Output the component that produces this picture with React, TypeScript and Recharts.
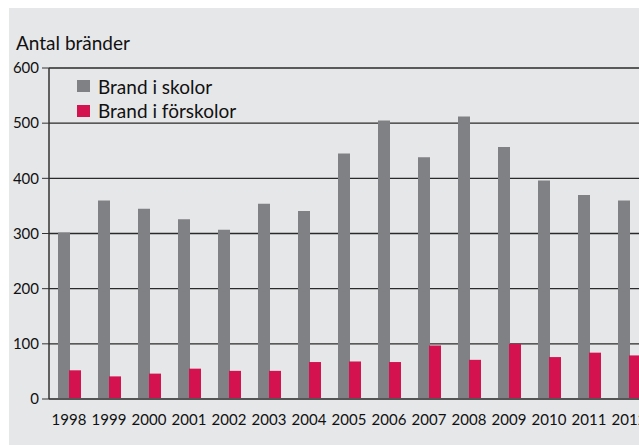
import React from "react";
import {
  BarChart,
  Bar,
  XAxis,
  YAxis,
  CartesianGrid,
} from "recharts";

// Antal bränder i skolor och förskolor, 1998–2012
const years: string[] = [
  "1998", "1999", "2000", "2001", "2002", "2003", "2004", "2005",
  "2006", "2007", "2008", "2009", "2010", "2011", "2012",
];
const skolor: number[] = [
  302, 360, 345, 326, 307, 354, 341, 445, 505, 438, 512, 457, 396, 370, 360,
];
const forskolor: number[] = [
  52, 41, 46, 55, 51, 51, 67, 68, 67, 97, 71, 100, 76, 84, 79,
];
const yTicks: number[] = [0, 100, 200, 300, 400, 500, 600];

const SERIES = [
  { key: "skolor", name: "Brand i skolor", color: "#808184" },
  { key: "forskolor", name: "Brand i förskolor", color: "#d4124f" },
];

const data = years.map((year, i) => ({
  year,
  skolor: skolor[i],
  forskolor: forskolor[i],
}));

const FONT = "Lato, 'Noto Sans', sans-serif";

// legenden ritas som en enkel lista med fyrkanter
function LegendBox() {
  return (
    <div
      style={{
        position: "absolute",
        left: 68,
        top: 66,
        fontFamily: FONT,
        fontSize: 19,
        color: "#111",
        zIndex: 2,
      }}
    >
      {SERIES.map((s) => (
        <div
          key={s.key}
          style={{ display: "flex", alignItems: "center", height: 24.5 }}
        >
          <span
            style={{
              display: "inline-block",
              width: 13,
              height: 12,
              background: s.color,
              marginRight: 8,
            }}
          />
          <span>{s.name}</span>
        </div>
      ))}
    </div>
  );
}

export default function App() {
  return (
    <div
      style={{
        position: "fixed",
        left: 0,
        top: 0,
        width: 639,
        height: 445,
        overflow: "hidden",
        background: "#ffffff",
      }}
    >
      <div
        style={{
          position: "absolute",
          left: 9,
          top: 8,
          width: 630,
          height: 437,
          overflow: "hidden",
          background: "#e6e7e9",
        }}
      >
        <div
          style={{
            position: "absolute",
            left: 7,
            top: 23,
            fontFamily: FONT,
            fontSize: 19,
            color: "#111",
          }}
        >
          Antal bränder
        </div>
        <LegendBox />
        <BarChart
          width={660}
          height={437}
          data={data}
          margin={{ top: 60, right: 20, bottom: 16, left: 0 }}
          barSize={12}
          barGap={-1}
        >
          <CartesianGrid
            vertical={false}
            stroke="#2a2a2a"
            strokeWidth={1.3}
          />
          <XAxis
            dataKey="year"
            interval={0}
            tickLine={false}
            tickMargin={9}
            height={30}
            axisLine={{ stroke: "#555", strokeWidth: 2 }}
            tick={{ fontFamily: FONT, fontSize: 15, fill: "#111" }}
          />
          <YAxis
            width={40}
            domain={[0, 600]}
            ticks={yTicks}
            tickSize={7}
            tickMargin={3}
            tickLine={{ stroke: "#333" }}
            axisLine={{ stroke: "#333", strokeWidth: 1.5 }}
            tick={{ fontFamily: FONT, fontSize: 15, fill: "#111" }}
          />
          {SERIES.map((s) => (
            <Bar
              key={s.key}
              dataKey={s.key}
              name={s.name}
              fill={s.color}
              isAnimationActive={false}
            />
          ))}
        </BarChart>
      </div>
    </div>
  );
}
